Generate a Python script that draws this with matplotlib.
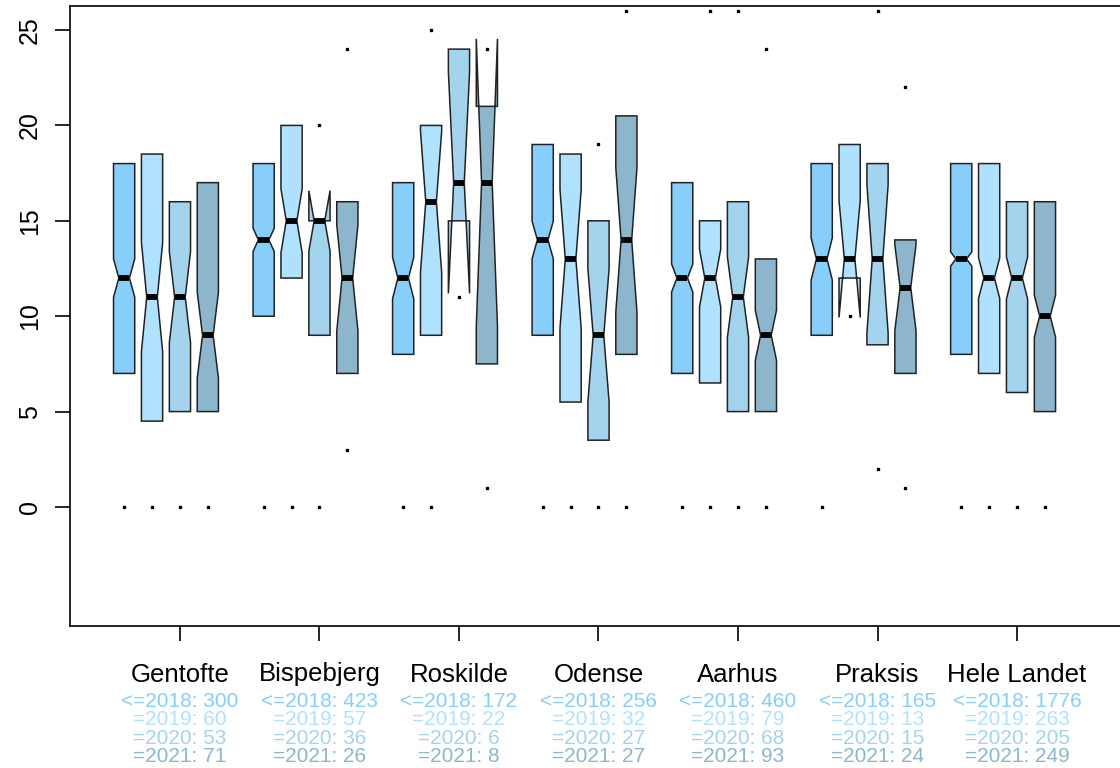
import matplotlib.pyplot as plt
import numpy as np

plt.rcParams['font.family'] = ['Liberation Sans', 'DejaVu Sans']

#DATA-------------------
groups = ['Gentofte', 'Bispebjerg', 'Roskilde', 'Odense', 'Aarhus', 'Praksis', 'Hele Landet']
years = ['<=2018', '=2019', '=2020', '=2021']
year_colors = ['#87CEFA', '#B0E2FF', '#A4D3EE', '#8DB6CD']

counts = [[300, 60, 53, 71], [423, 57, 36, 26], [172, 22, 6, 8], [256, 32, 27, 27],
          [460, 79, 68, 93], [165, 13, 15, 24], [1776, 263, 205, 249]]
medians = [[12, 11, 11, 9], [14, 15, 15, 12], [12, 16, 17, 17], [14, 13, 9, 14],
           [12, 12, 11, 9], [13, 13, 13, 11.5], [13, 12, 12, 10]]
q1 = [[7, 4.5, 5, 5], [10, 12, 9, 7], [8, 9, 15, 7.5], [9, 5.5, 3.5, 8],
      [7, 6.5, 5, 5], [9, 12, 8.5, 7], [8, 7, 6, 5]]
q3 = [[18, 18.5, 16, 17], [18, 20, 15, 16], [17, 20, 24, 21], [19, 18.5, 15, 20.5],
      [17, 15, 16, 13], [18, 19, 18, 14], [18, 18, 16, 16]]
nan = np.nan
low_pts = [[0, 0, 0, 0], [0, 0, 0, 3], [0, 0, 11, 1], [0, 0, 0, 0],
           [0, 0, 0, 0], [0, 10, 2, 1], [0, 0, 0, 0]]
high_pts = [[nan, nan, nan, nan], [nan, nan, 20, 24], [nan, 25, nan, 24], [nan, nan, 19, 26],
            [nan, 26, 26, 24], [nan, nan, 26, 22], [nan, nan, nan, nan]]
#------------------------

fig = plt.figure(figsize=(11.2, 7.68), dpi=100)
ax = fig.add_axes([70/1120, 1-626/768, 1-70/1120, 620/768])

stats = []
positions = []
colors = []
for g in range(len(groups)):
	for k in range(4):
		med = medians[g][k]
		iqr = q3[g][k] - q1[g][k]
		half = 1.58*iqr/np.sqrt(counts[g][k])
		pts = [p for p in (low_pts[g][k], high_pts[g][k]) if not np.isnan(p)]
		stats.append(dict(med=med, q1=q1[g][k], q3=q3[g][k],
		                  whislo=q1[g][k], whishi=q3[g][k],
		                  cilo=med-half, cihi=med+half, fliers=pts))
		positions.append(g*5 + k + 1)
		colors.append(year_colors[k])

bp = ax.bxp(stats, positions=positions, widths=0.76, shownotches=True,
            patch_artist=True, showcaps=False, manage_ticks=False,
            boxprops=dict(edgecolor='#222222', linewidth=1.1),
            whiskerprops=dict(linestyle='none'),
            medianprops=dict(color='black', linewidth=4.2, solid_capstyle='butt'),
            flierprops=dict(marker='s', markersize=1.6, markerfacecolor='black',
                            markeredgecolor='black', linestyle='none'))
for patch, c in zip(bp['boxes'], colors):
	patch.set_facecolor(c)

ax.set_xlim(-0.94, 36.69)
ax.set_ylim(-6.24, 26.26)

ax.spines['right'].set_visible(False)
for s in ['left', 'bottom', 'top']:
	ax.spines[s].set_linewidth(1.2)

ticks = [g*5 + 3 for g in range(len(groups))]
ax.set_xticks(ticks)
ax.set_xticklabels([])
ax.set_yticks([0, 5, 10, 15, 20, 25])
ax.tick_params(axis='both', length=11, width=1.2, labelsize=18)
ax.tick_params(axis='y', pad=9)
for lbl in ax.get_yticklabels():
	lbl.set_rotation(90)
	lbl.set_va('center')

# group names and counts below the axis
tr = ax.get_xaxis_transform()
def ypix(p):
	return (626 - p)/620

for g, name in enumerate(groups):
	ax.text(ticks[g], ypix(681.5), name, transform=tr, ha='center', va='baseline',
	        fontsize=18.5, color='black', clip_on=False)
	for k in range(4):
		ax.text(ticks[g], ypix(707 + 18.3*k), '%s: %d' % (years[k], counts[g][k]),
		        transform=tr, ha='center', va='baseline', fontsize=15,
		        color=year_colors[k], clip_on=False)

plt.savefig('out.png', dpi=100)
